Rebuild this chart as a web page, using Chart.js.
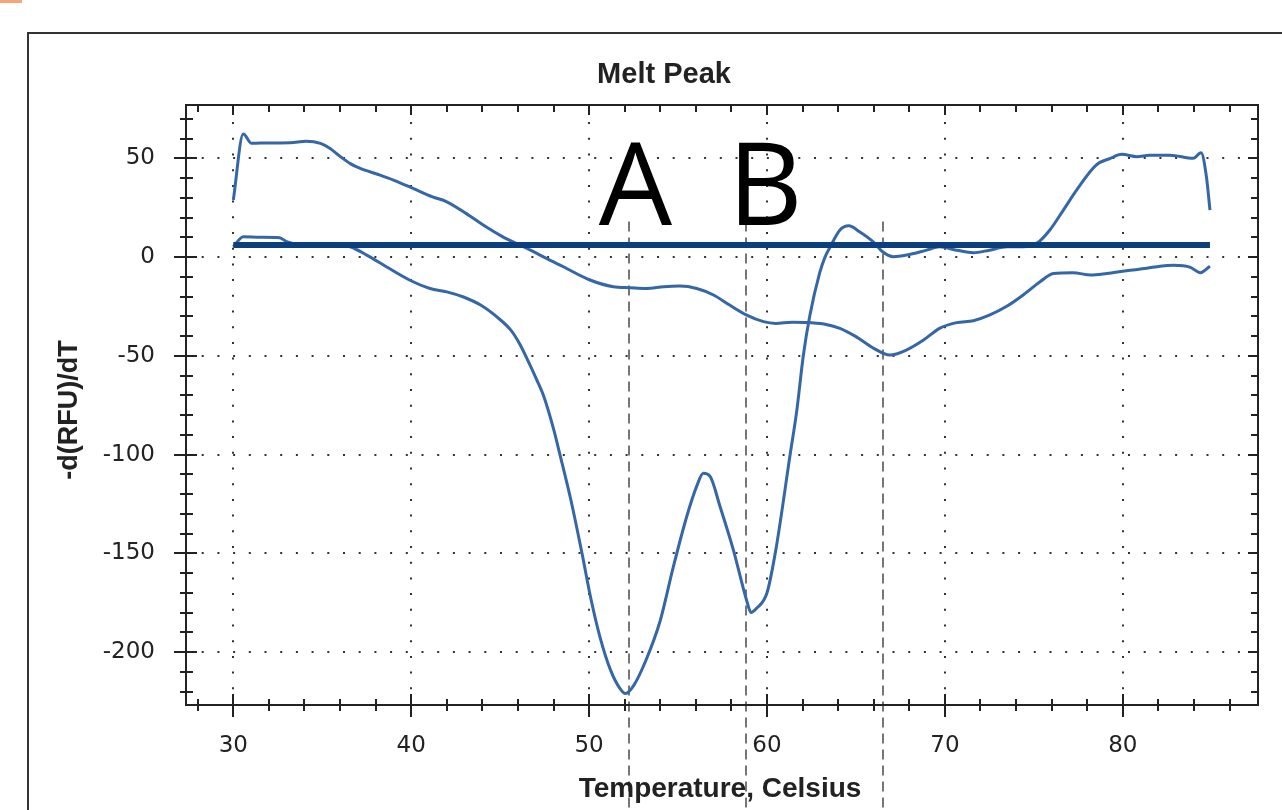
<!DOCTYPE html>
<html>
<head>
<meta charset="utf-8">
<script src="https://cdn.jsdelivr.net/npm/chart.js@4.4.0/dist/chart.umd.min.js"></script>
<style>
html,body{margin:0;padding:0;background:#fff;overflow:hidden}
#wrap{position:relative;width:1282px;height:810px}
</style>
</head>
<body>
<div id="wrap"><canvas id="c" width="1282" height="810"></canvas></div>
<script>
// ---------- data ----------
const chartTitle = "Melt Peak";
const xAxisTitle = "Temperature, Celsius";
const yAxisTitle = "-d(RFU)/dT";
const xTickLabels = [30, 40, 50, 60, 70, 80];
const yTickLabels = [50, 0, -50, -100, -150, -200];

const baselineTemps  = [30.0, 84.9];
const baselineValues = [6.1, 6.1];

const sampleOneTemps = [30.0, 30.56, 31.03, 32.0, 33.2, 34.1, 34.9, 35.4, 36.0, 36.6, 37.1, 38.25, 39.0, 40.1, 41.2, 42.0, 43.1, 44.2, 45.1, 45.9, 46.7, 47.6, 48.55, 50.05, 51.36, 52.3, 53.2, 54.2, 55.1, 56.05, 56.99, 57.9, 58.86, 59.8, 60.5, 61.4, 62.2, 63.2, 64.1, 65.0, 66.0, 66.9, 67.85, 68.8, 69.7, 70.66, 71.6, 72.5, 73.5, 74.4, 75.35, 76.1, 77.2, 78.2, 79.1, 80.2, 81.35, 82.1, 82.85, 83.8, 84.35, 84.9];
const sampleOneValues = [28.9, 62.3, 57.6, 57.8, 57.9, 58.7, 57.6, 55.2, 51.0, 47.2, 45.0, 41.5, 39.0, 34.8, 30.5, 28.0, 22.0, 15.3, 10.5, 6.9, 3.5, -0.7, -4.9, -11.6, -15.0, -15.5, -15.9, -15.0, -14.7, -15.9, -19.2, -24.3, -29.4, -32.7, -33.6, -33.0, -33.1, -33.9, -36.1, -40.3, -46.2, -49.6, -47.0, -42.0, -36.1, -33.2, -32.2, -29.4, -24.8, -19.2, -12.5, -8.3, -7.9, -9.1, -8.3, -6.9, -5.7, -4.6, -4.2, -5.2, -7.9, -4.6];

const sampleTwoTemps = [30.0, 30.56, 31.5, 32.6, 33.0, 33.6, 34.5, 35.5, 36.56, 37.5, 38.6, 39.9, 41.06, 42.0, 42.9, 43.9, 44.8, 45.6, 46.1, 46.5, 47.05, 47.43, 48.0, 48.36, 49.0, 49.6, 50.1, 50.6, 51.2, 51.74, 52.05, 52.5, 53.2, 54.0, 54.73, 55.5, 56.05, 56.42, 56.8, 57.35, 58.1, 58.86, 59.1, 59.4, 60.0, 60.5, 61.3, 61.67, 62.04, 62.4, 62.96, 63.26, 63.6, 64.1, 64.6, 65.2, 65.97, 66.5, 67.1, 67.85, 68.97, 69.7, 70.66, 71.6, 72.5, 73.5, 74.4, 75.2, 75.9, 76.66, 77.4, 78.5, 79.3, 79.94, 80.8, 81.5, 82.65, 83.96, 84.4, 84.7, 84.9];
const sampleTwoValues = [5.2, 10.3, 10.0, 9.8, 7.8, 6.5, 6.5, 6.2, 5.2, 1.0, -4.9, -11.6, -15.9, -17.6, -20.1, -24.3, -30.2, -37.0, -44.0, -51.3, -62.0, -70.0, -87.0, -100.0, -124.0, -150.0, -173.0, -192.0, -209.0, -218.5, -221.0, -217.0, -204.0, -184.0, -157.0, -131.0, -116.0, -109.5, -111.0, -126.0, -148.0, -174.0, -180.0, -178.0, -170.0, -148.0, -100.0, -78.0, -50.0, -30.0, -8.0, 0.0, 6.0, 13.7, 15.8, 12.8, 7.7, 2.7, 0.2, 1.0, 3.5, 5.2, 3.5, 2.2, 3.5, 5.2, 5.2, 7.2, 13.7, 23.8, 33.9, 46.6, 50.0, 52.0, 50.8, 51.6, 51.6, 50.0, 52.8, 40.7, 23.8];

const markerTemps = [52.24, 58.82, 66.5];
const markerTopValue = 18;
const markerLetters = ["A", "B"];
const markerLetterTemps = [52.6, 59.9];
const markerLetterBaseValue = 16.2;

// ---------- helpers ----------
function toPoints(ts, vs) { return ts.map((t, i) => ({ x: t, y: vs[i] })); }

const framePlugin = {
  id: 'frame',
  beforeDraw(chart) {
    const ctx = chart.ctx;
    ctx.save();
    ctx.fillStyle = '#ffffff';
    ctx.fillRect(0, 0, chart.width, chart.height);
    ctx.restore();
  },
  beforeDatasetsDraw(chart) {
    const { ctx, chartArea: a, scales: { x, y } } = chart;
    ctx.save();
    ctx.strokeStyle = '#333';
    ctx.lineWidth = 2;
    ctx.setLineDash([2, 13.7]);
    xTickLabels.forEach(v => {
      const px = Math.round(x.getPixelForValue(v));
      ctx.beginPath(); ctx.moveTo(px, a.bottom); ctx.lineTo(px, a.top); ctx.stroke();
    });
    yTickLabels.forEach(v => {
      const py = Math.round(y.getPixelForValue(v));
      ctx.beginPath(); ctx.moveTo(a.left, py); ctx.lineTo(a.right, py); ctx.stroke();
    });
    ctx.strokeStyle = '#767676';
    ctx.lineWidth = 2;
    ctx.setLineDash([10, 6]);
    markerTemps.forEach(t => {
      const px = Math.round(x.getPixelForValue(t));
      ctx.beginPath(); ctx.moveTo(px, y.getPixelForValue(markerTopValue)); ctx.lineTo(px, chart.height); ctx.stroke();
    });
    ctx.restore();
  },
  afterDraw(chart) {
    const { ctx, chartArea: a, scales: { x, y } } = chart;
    ctx.save();
    ctx.setLineDash([]);
    ctx.strokeStyle = '#222';
    ctx.lineWidth = 2;
    ctx.strokeRect(a.left, a.top, a.right - a.left, a.bottom - a.top);
    ctx.beginPath();
    for (let v = Math.ceil(x.min / 2) * 2; v <= x.max; v += 2) {
      const px = Math.round(x.getPixelForValue(v));
      const major = v % 10 === 0;
      ctx.moveTo(px, a.bottom - (major ? 11 : 6)); ctx.lineTo(px, a.bottom + (major ? 12 : 6));
      ctx.moveTo(px, a.top); ctx.lineTo(px, a.top + (major ? 10 : 7));
    }
    for (let v = Math.ceil(y.min / 10) * 10; v <= y.max; v += 10) {
      const py = Math.round(y.getPixelForValue(v));
      const major = v % 50 === 0;
      ctx.moveTo(a.left - (major ? 12 : 6), py); ctx.lineTo(a.left + (major ? 11 : 7), py);
      ctx.moveTo(a.right - (major ? 10 : 7), py); ctx.lineTo(a.right, py);
    }
    ctx.stroke();
    ctx.fillStyle = '#222';
    ctx.font = '23px "DejaVu Sans"';
    ctx.textAlign = 'center';
    ctx.textBaseline = 'middle';
    xTickLabels.forEach(v => ctx.fillText(String(v), x.getPixelForValue(v), a.bottom + 41));
    ctx.textAlign = 'right';
    yTickLabels.forEach(v => ctx.fillText(String(v), a.left - 31, y.getPixelForValue(v)));
    ctx.font = 'bold 29px "Liberation Sans"';
    ctx.textAlign = 'center';
    ctx.textBaseline = 'alphabetic';
    ctx.fillText(chartTitle, 664, 83);
    ctx.font = 'bold 28px "Liberation Sans"';
    ctx.fillText(xAxisTitle, (a.left + a.right) / 2 - 2, 797);
    ctx.save();
    ctx.translate(70, (a.top + a.bottom) / 2 + 5);
    ctx.rotate(-Math.PI / 2);
    ctx.textBaseline = 'middle';
    ctx.font = 'bold 27px "Liberation Sans"';
    ctx.fillText(yAxisTitle, 0, 0);
    ctx.restore();
    ctx.fillStyle = '#000';
    ctx.font = '116px "Open Sans"';
    ctx.textAlign = 'center';
    ctx.textBaseline = 'alphabetic';
    markerLetters.forEach((s, i) => ctx.fillText(s, x.getPixelForValue(markerLetterTemps[i]), y.getPixelForValue(markerLetterBaseValue)));
    ctx.strokeStyle = '#333';
    ctx.lineWidth = 2;
    ctx.beginPath();
    ctx.moveTo(28, chart.height); ctx.lineTo(28, 33); ctx.lineTo(chart.width, 33);
    ctx.stroke();
    ctx.fillStyle = '#f5a57c';
    ctx.fillRect(0, 0, 22, 3);
    ctx.restore();
  }
};

new Chart(document.getElementById('c'), {
  type: 'line',
  data: {
    datasets: [
      { label: 'Baseline', data: toPoints(baselineTemps, baselineValues), borderColor: '#0d3f7f', borderWidth: 6, pointRadius: 0, tension: 0 },
      { label: 'Sample 1', data: toPoints(sampleOneTemps, sampleOneValues), borderColor: '#3566a6', borderWidth: 3, pointRadius: 0, cubicInterpolationMode: 'monotone' },
      { label: 'Sample 2', data: toPoints(sampleTwoTemps, sampleTwoValues), borderColor: '#3566a6', borderWidth: 3, pointRadius: 0, cubicInterpolationMode: 'monotone' }
    ]
  },
  options: {
    responsive: false,
    animation: false,
    devicePixelRatio: 1,
    layout: { padding: { left: 186, top: 105, right: 24, bottom: 105 } },
    plugins: { legend: { display: false }, tooltip: { enabled: false }, title: { display: false } },
    scales: {
      x: { type: 'linear', min: 27.34, max: 87.6, display: false },
      y: { type: 'linear', min: -226.8, max: 77, display: false }
    }
  },
  plugins: [framePlugin]
});
</script>
</body>
</html>
